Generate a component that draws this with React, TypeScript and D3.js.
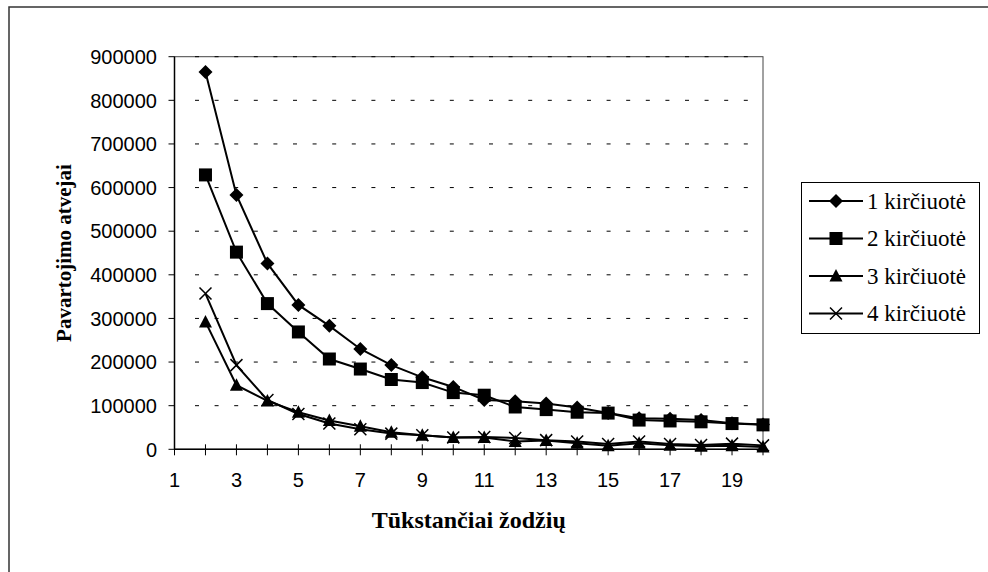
import React, { useEffect, useRef } from "react";
import * as d3 from "d3";

// x categories (thousands of words) and usage counts per accent series
const categories = [2, 3, 4, 5, 6, 7, 8, 9, 10, 11, 12, 13, 14, 15, 16, 17, 18, 19, 20];
const xTickLabels = [1, 3, 5, 7, 9, 11, 13, 15, 17, 19];
const yTicks = [0, 100000, 200000, 300000, 400000, 500000, 600000, 700000, 800000, 900000];

const series1 = [865000, 583000, 426000, 331000, 283000, 230000, 193000, 165000, 143000, 113000, 110000, 105000, 96000, 83000, 71000, 70000, 67000, 60000, 57000];
const series2 = [629000, 452000, 334000, 269000, 207000, 184000, 160000, 153000, 130000, 124000, 97000, 91000, 85000, 83000, 67000, 65000, 63000, 59000, 56000];
const series3 = [292000, 147000, 111000, 85000, 66000, 53000, 39000, 32000, 27000, 27000, 18000, 20000, 14000, 8000, 14000, 9000, 7000, 8000, 5000];
const series4 = [357000, 193000, 113000, 81000, 59000, 46000, 36000, 32000, 27000, 28000, 26000, 21000, 18000, 12000, 18000, 12000, 10000, 13000, 9000];

const seriesNames = ["1 kirčiuotė", "2 kirčiuotė", "3 kirčiuotė", "4 kirčiuotė"];
const seriesMarkers = ["diamond", "square", "triangle", "cross"];

export default function App() {
  const svgRef = useRef<SVGSVGElement>(null);

  useEffect(() => {
    if (!svgRef.current) return;

    const width = 988;
    const height = 572;
    const left = 174.5;
    const right = 763;
    const top = 56.7;
    const bottom = 449.3;
    const serif = "'Liberation Serif', 'Times New Roman', serif";
    const sans = "'Liberation Sans', Arial, sans-serif";

    d3.select(svgRef.current).selectAll("*").remove();

    const svg = d3.select(svgRef.current)
      .attr("width", width)
      .attr("height", height)
      .attr("viewBox", [0, 0, width, height]);

    svg.append("rect")
      .attr("width", width)
      .attr("height", height)
      .attr("fill", "white");

    // outer chart frame (runs off the right and bottom edges)
    svg.append("rect")
      .attr("x", 9)
      .attr("y", 7)
      .attr("width", width + 20)
      .attr("height", height + 20)
      .attr("fill", "none")
      .attr("stroke", "#333")
      .attr("stroke-width", 1.5);

    const x = d3.scaleLinear().domain([1, 20]).range([left, right]);
    const y = d3.scaleLinear().domain([0, 900000]).range([bottom, top]);

    // plot area border
    svg.append("rect")
      .attr("x", left)
      .attr("y", top)
      .attr("width", right - left)
      .attr("height", bottom - top)
      .attr("fill", "none")
      .attr("stroke", "#444")
      .attr("stroke-width", 1);

    // dashed gridlines
    svg.append("g")
      .selectAll("line")
      .data(yTicks.filter(d => d > 0))
      .join("line")
      .attr("x1", left + 20.5)
      .attr("x2", right)
      .attr("y1", d => y(d))
      .attr("y2", d => y(d))
      .attr("stroke", "#000")
      .attr("stroke-width", 1)
      .attr("stroke-dasharray", "4 15.6");

    // y axis
    const yAxis = svg.append("g");
    yAxis.append("line")
      .attr("x1", left).attr("x2", left)
      .attr("y1", top).attr("y2", bottom)
      .attr("stroke", "#000").attr("stroke-width", 1.5);
    yAxis.selectAll("line.tick")
      .data(yTicks)
      .join("line")
      .attr("class", "tick")
      .attr("x1", left - 6).attr("x2", left)
      .attr("y1", d => y(d)).attr("y2", d => y(d))
      .attr("stroke", "#000");
    yAxis.selectAll("text")
      .data(yTicks)
      .join("text")
      .attr("x", 157)
      .attr("y", d => y(d))
      .attr("dy", "0.36em")
      .attr("text-anchor", "end")
      .style("font-family", sans)
      .style("font-size", "20px")
      .text(d => d);

    // x axis
    const xAxis = svg.append("g");
    xAxis.append("line")
      .attr("x1", left).attr("x2", right)
      .attr("y1", bottom).attr("y2", bottom)
      .attr("stroke", "#000").attr("stroke-width", 1.5);
    xAxis.selectAll("line.tick")
      .data(d3.range(1, 21))
      .join("line")
      .attr("class", "tick")
      .attr("x1", d => x(d)).attr("x2", d => x(d))
      .attr("y1", bottom - 5).attr("y2", bottom + 6)
      .attr("stroke", "#000");
    xAxis.selectAll("text")
      .data(xTickLabels)
      .join("text")
      .attr("x", d => x(d))
      .attr("y", 487)
      .attr("text-anchor", "middle")
      .style("font-family", sans)
      .style("font-size", "20px")
      .text(d => d);

    // axis titles
    svg.append("text")
      .attr("x", (left + right) / 2)
      .attr("y", 528)
      .attr("text-anchor", "middle")
      .style("font-family", serif)
      .style("font-weight", "bold")
      .style("font-size", "24px")
      .text("Tūkstančiai žodžių");

    svg.append("text")
      .attr("transform", `translate(71, ${(top + bottom) / 2}) rotate(-90)`)
      .attr("text-anchor", "middle")
      .style("font-family", serif)
      .style("font-weight", "bold")
      .style("font-size", "21px")
      .text("Pavartojimo atvejai");

    const drawMarker = (g: any, kind: string, cx: number, cy: number) => {
      if (kind === "diamond") {
        g.append("path")
          .attr("d", `M${cx},${cy - 7}L${cx + 7},${cy}L${cx},${cy + 7}L${cx - 7},${cy}Z`)
          .attr("fill", "#000");
      } else if (kind === "square") {
        g.append("rect")
          .attr("x", cx - 6.5).attr("y", cy - 6.5)
          .attr("width", 13).attr("height", 13)
          .attr("fill", "#000");
      } else if (kind === "triangle") {
        g.append("path")
          .attr("d", `M${cx},${cy - 7}L${cx + 6.5},${cy + 5.5}L${cx - 6.5},${cy + 5.5}Z`)
          .attr("fill", "#000");
      } else {
        g.append("path")
          .attr("d", `M${cx - 6},${cy - 6}L${cx + 6},${cy + 6}M${cx + 6},${cy - 6}L${cx - 6},${cy + 6}`)
          .attr("stroke", "#000")
          .attr("stroke-width", 1.5)
          .attr("fill", "none");
      }
    };

    const allSeries = [series1, series2, series3, series4];
    const line = d3.line<number>()
      .x((_, i) => x(categories[i]))
      .y(d => y(d));

    allSeries.forEach((vals, si) => {
      const g = svg.append("g");
      g.append("path")
        .datum(vals)
        .attr("d", line)
        .attr("fill", "none")
        .attr("stroke", "#000")
        .attr("stroke-width", 2);
      vals.forEach((v, i) => drawMarker(g, seriesMarkers[si], x(categories[i]), y(v)));
    });

    // legend
    const legend = svg.append("g");
    legend.append("rect")
      .attr("x", 801.5)
      .attr("y", 182.5)
      .attr("width", 178)
      .attr("height", 151)
      .attr("fill", "white")
      .attr("stroke", "#000")
      .attr("stroke-width", 1);
    seriesNames.forEach((name, i) => {
      const ly = 201 + i * 37.5;
      legend.append("line")
        .attr("x1", 809).attr("x2", 863)
        .attr("y1", ly).attr("y2", ly)
        .attr("stroke", "#000").attr("stroke-width", 2);
      drawMarker(legend, seriesMarkers[i], 836, ly);
      legend.append("text")
        .attr("x", 867)
        .attr("y", ly)
        .attr("dy", "0.33em")
        .style("font-family", serif)
        .style("font-size", "23px")
        .text(name);
    });
  }, []);

  return (
    <div style={{ position: "absolute", left: 0, top: 0 }}>
      <svg ref={svgRef} style={{ display: "block" }}></svg>
    </div>
  );
}
